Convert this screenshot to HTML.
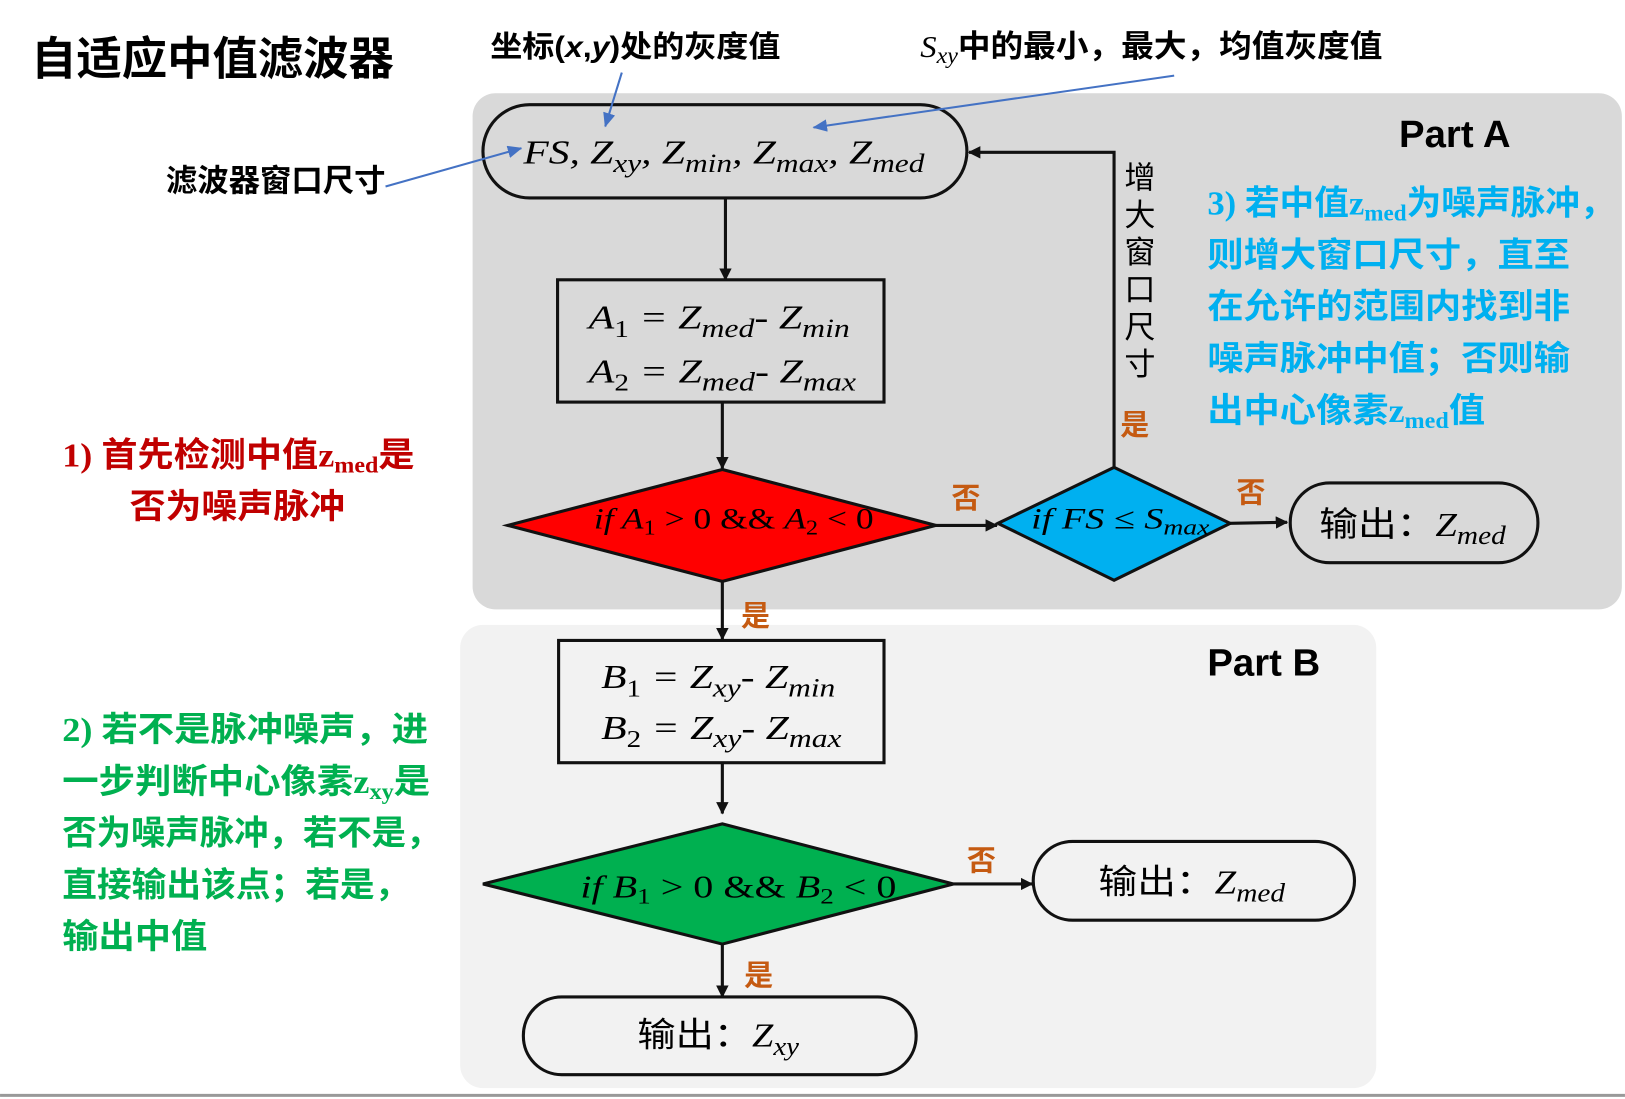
<!DOCTYPE html>
<html><head><meta charset="utf-8"><style>
html,body{margin:0;padding:0;background:#fff;width:1625px;height:1099px;overflow:hidden}
svg{display:block}
.cn{font-family:"Liberation Sans","Noto Sans CJK SC",sans-serif;font-weight:bold}
.m{font-family:"Liberation Serif","DejaVu Serif",serif;font-style:italic}
.o{fill:#c55a11;font-size:28px}
.s{font-family:"Liberation Serif",serif}
</style></head><body>
<svg width="1625" height="1099" viewBox="0 0 1568 1060.5" xmlns="http://www.w3.org/2000/svg">
<defs>
<marker id="a" markerWidth="12" markerHeight="12" refX="11" refY="6" orient="auto" markerUnits="userSpaceOnUse"><path d="M0,0 L12,6 L0,12 z" fill="#111"/></marker>
<marker id="b" markerWidth="14" markerHeight="12" refX="13" refY="6" orient="auto" markerUnits="userSpaceOnUse"><path d="M0,0 L14,6 L0,12 z" fill="#4472c4"/></marker>
</defs>
<rect x="456" y="90" width="1109" height="498" rx="22" fill="#d9d9d9"/>
<rect x="444" y="603" width="884" height="447" rx="22" fill="#f2f2f2"/>
<line x1="0" y1="1057" x2="1568" y2="1057" stroke="#999" stroke-width="3"/>

<text x="30" y="72" class="cn" font-size="44" textLength="350" lengthAdjust="spacingAndGlyphs">自适应中值滤波器</text>
<text x="473" y="55" class="cn" font-size="29" textLength="280" lengthAdjust="spacingAndGlyphs">坐标(<tspan font-style="italic">x</tspan>,<tspan font-style="italic">y</tspan>)处的灰度值</text>
<text x="888" y="55" class="cn" font-size="30" textLength="446" lengthAdjust="spacingAndGlyphs"><tspan class="m" font-weight="normal">S</tspan><tspan class="m" font-weight="normal" font-size="22" dy="6">xy</tspan><tspan dy="-6">中的最小，最大，均值灰度值</tspan></text>
<text x="160" y="185" class="cn" font-size="30" textLength="212" lengthAdjust="spacingAndGlyphs">滤波器窗口尺寸</text>
<text x="1350" y="142" font-family="Liberation Sans,sans-serif" font-weight="bold" font-size="37">Part A</text>
<text x="1165" y="652" font-family="Liberation Sans,sans-serif" font-weight="bold" font-size="37">Part B</text>

<rect x="466" y="101" width="467" height="90" rx="45" fill="#d9d9d9" stroke="#111" stroke-width="3"/>
<text x="505" y="158" class="m" font-size="33" textLength="387" lengthAdjust="spacingAndGlyphs">FS, Z<tspan font-size="25" dy="8">xy</tspan><tspan dy="-8">, Z</tspan><tspan font-size="25" dy="8">min</tspan><tspan dy="-8">, Z</tspan><tspan font-size="25" dy="8">max</tspan><tspan dy="-8">, Z</tspan><tspan font-size="25" dy="8">med</tspan></text>

<line x1="600" y1="70" x2="584" y2="122" stroke="#4472c4" stroke-width="2" marker-end="url(#b)"/>
<line x1="1133" y1="73" x2="785" y2="123" stroke="#4472c4" stroke-width="2" marker-end="url(#b)"/>
<line x1="372" y1="180" x2="503" y2="143" stroke="#4472c4" stroke-width="2" marker-end="url(#b)"/>

<line x1="700" y1="191" x2="700" y2="270" stroke="#111" stroke-width="3" marker-end="url(#a)"/>
<rect x="538" y="270" width="315" height="118" fill="#d9d9d9" stroke="#111" stroke-width="3"/>
<text x="568" y="317" class="m" font-size="33" textLength="252" lengthAdjust="spacingAndGlyphs">A<tspan font-size="23" dy="8" font-style="normal">1</tspan><tspan dy="-8"> = Z</tspan><tspan font-size="25" dy="8">med</tspan><tspan dy="-8">- Z</tspan><tspan font-size="25" dy="8">min</tspan></text>
<text x="568" y="369" class="m" font-size="33" textLength="258" lengthAdjust="spacingAndGlyphs">A<tspan font-size="23" dy="8" font-style="normal">2</tspan><tspan dy="-8"> = Z</tspan><tspan font-size="25" dy="8">med</tspan><tspan dy="-8">- Z</tspan><tspan font-size="25" dy="8">max</tspan></text>

<line x1="697" y1="388" x2="697" y2="452" stroke="#111" stroke-width="3" marker-end="url(#a)"/>
<polygon points="490,507 697,453 903,507 697,561" fill="#ff0000" stroke="#111" stroke-width="3"/>
<text x="573" y="510" class="m" font-size="29" textLength="270" lengthAdjust="spacingAndGlyphs">if A<tspan font-size="20" dy="6" font-style="normal">1</tspan><tspan dy="-6" font-style="normal"> &gt; 0 &amp;&amp; </tspan>A<tspan font-size="20" dy="6" font-style="normal">2</tspan><tspan dy="-6" font-style="normal"> &lt; 0</tspan></text>

<line x1="903" y1="507" x2="962" y2="507" stroke="#111" stroke-width="3" marker-end="url(#a)"/>
<text x="918" y="490" class="cn o">否</text>
<polygon points="963,505 1075,451 1187,505 1075,560" fill="#00b0f0" stroke="#111" stroke-width="3"/>
<text x="995" y="510" class="m" font-size="29" textLength="172" lengthAdjust="spacingAndGlyphs">if FS ≤ S<tspan font-size="21" dy="6">max</tspan></text>
<polyline points="1075,451 1075,147 935,147" fill="none" stroke="#111" stroke-width="3" marker-end="url(#a)"/>
<g font-family="Liberation Sans,'Noto Sans CJK SC',sans-serif" font-size="30">
<text x="1100" y="182" text-anchor="middle">增</text><text x="1100" y="218" text-anchor="middle">大</text><text x="1100" y="254" text-anchor="middle">窗</text><text x="1100" y="290" text-anchor="middle">口</text><text x="1100" y="326" text-anchor="middle">尺</text><text x="1100" y="362" text-anchor="middle">寸</text>
</g>
<text x="1081" y="420" class="cn o">是</text>
<line x1="1187" y1="505" x2="1242" y2="504" stroke="#111" stroke-width="3" marker-end="url(#a)"/>
<text x="1193" y="485" class="cn o">否</text>
<rect x="1245" y="466" width="239" height="77" rx="38" fill="#d9d9d9" stroke="#111" stroke-width="3"/>
<text x="1273" y="517" font-family="Liberation Sans,'Noto Sans CJK SC',sans-serif" font-size="33" textLength="180" lengthAdjust="spacingAndGlyphs">输出：<tspan class="m">Z</tspan><tspan class="m" font-size="25" dy="8">med</tspan></text>

<line x1="697" y1="561" x2="697" y2="617" stroke="#111" stroke-width="3" marker-end="url(#a)"/>
<text x="715" y="604" class="cn o">是</text>
<rect x="539" y="618" width="314" height="118" fill="#f2f2f2" stroke="#111" stroke-width="3"/>
<text x="580" y="664" class="m" font-size="33" textLength="226" lengthAdjust="spacingAndGlyphs">B<tspan font-size="23" dy="8" font-style="normal">1</tspan><tspan dy="-8"> = Z</tspan><tspan font-size="25" dy="8">xy</tspan><tspan dy="-8">- Z</tspan><tspan font-size="25" dy="8">min</tspan></text>
<text x="580" y="713" class="m" font-size="33" textLength="232" lengthAdjust="spacingAndGlyphs">B<tspan font-size="23" dy="8" font-style="normal">2</tspan><tspan dy="-8"> = Z</tspan><tspan font-size="25" dy="8">xy</tspan><tspan dy="-8">- Z</tspan><tspan font-size="25" dy="8">max</tspan></text>

<line x1="697" y1="736" x2="697" y2="785" stroke="#111" stroke-width="3" marker-end="url(#a)"/>
<polygon points="466,853 697,795 920,853 697,911" fill="#00b050" stroke="#111" stroke-width="3"/>
<text x="560" y="866" class="m" font-size="31" textLength="305" lengthAdjust="spacingAndGlyphs">if B<tspan font-size="21" dy="6" font-style="normal">1</tspan><tspan dy="-6" font-style="normal"> &gt; 0 &amp;&amp; </tspan>B<tspan font-size="21" dy="6" font-style="normal">2</tspan><tspan dy="-6" font-style="normal"> &lt; 0</tspan></text>
<line x1="920" y1="853" x2="996" y2="853" stroke="#111" stroke-width="3" marker-end="url(#a)"/>
<text x="933" y="840" class="cn o">否</text>
<rect x="997" y="812" width="310" height="76" rx="38" fill="#f2f2f2" stroke="#111" stroke-width="3"/>
<text x="1060" y="862" font-family="Liberation Sans,'Noto Sans CJK SC',sans-serif" font-size="33" textLength="180" lengthAdjust="spacingAndGlyphs">输出：<tspan class="m">Z</tspan><tspan class="m" font-size="25" dy="8">med</tspan></text>

<line x1="697" y1="911" x2="697" y2="962" stroke="#111" stroke-width="3" marker-end="url(#a)"/>
<text x="718" y="951" class="cn o">是</text>
<rect x="505" y="962" width="379" height="75" rx="37" fill="#f2f2f2" stroke="#111" stroke-width="3"/>
<text x="615" y="1010" font-family="Liberation Sans,'Noto Sans CJK SC',sans-serif" font-size="33" textLength="156" lengthAdjust="spacingAndGlyphs">输出：<tspan class="m">Z</tspan><tspan class="m" font-size="25" dy="8">xy</tspan></text>

<g class="cn" font-size="33" fill="#c00000">
<text x="60" y="450" textLength="340" lengthAdjust="spacingAndGlyphs"><tspan class="s">1) </tspan>首先检测中值<tspan class="s">z</tspan><tspan class="s" font-size="22" dy="6">med</tspan><tspan dy="-6">是</tspan></text>
<text x="125" y="500" textLength="208" lengthAdjust="spacingAndGlyphs">否为噪声脉冲</text>
</g>
<g class="cn" font-size="33" fill="#00b050">
<text x="60" y="715" textLength="353" lengthAdjust="spacingAndGlyphs"><tspan class="s">2) </tspan>若不是脉冲噪声，进</text>
<text x="60" y="765" textLength="355" lengthAdjust="spacingAndGlyphs">一步判断中心像素<tspan class="s">z</tspan><tspan class="s" font-size="22" dy="6">xy</tspan><tspan dy="-6">是</tspan></text>
<text x="60" y="815" textLength="365" lengthAdjust="spacingAndGlyphs">否为噪声脉冲，若不是，</text>
<text x="60" y="865" textLength="335" lengthAdjust="spacingAndGlyphs">直接输出该点；若是，</text>
<text x="60" y="915" textLength="140" lengthAdjust="spacingAndGlyphs">输出中值</text>
</g>
<g class="cn" font-size="33" fill="#00b0f0">
<text x="1165" y="207" textLength="393" lengthAdjust="spacingAndGlyphs"><tspan class="s">3) </tspan>若中值<tspan class="s">z</tspan><tspan class="s" font-size="22" dy="6">med</tspan><tspan dy="-6">为噪声脉冲，</tspan></text>
<text x="1165" y="257" textLength="350" lengthAdjust="spacingAndGlyphs">则增大窗口尺寸，直至</text>
<text x="1165" y="307" textLength="350" lengthAdjust="spacingAndGlyphs">在允许的范围内找到非</text>
<text x="1165" y="357" textLength="350" lengthAdjust="spacingAndGlyphs">噪声脉冲中值；否则输</text>
<text x="1165" y="407" textLength="268" lengthAdjust="spacingAndGlyphs">出中心像素<tspan class="s">z</tspan><tspan class="s" font-size="22" dy="6">med</tspan><tspan dy="-6">值</tspan></text>
</g>
</svg>
</body></html>
